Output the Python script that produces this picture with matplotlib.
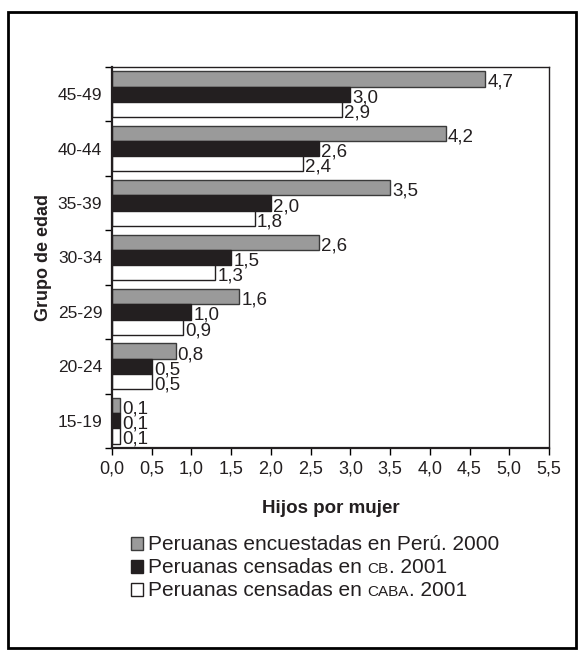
import numpy as np
import matplotlib.pyplot as plt
from matplotlib.patches import Rectangle
from matplotlib.offsetbox import TextArea, HPacker, VPacker, DrawingArea, AnchoredOffsetbox

plt.rcParams['font.family'] = ['Liberation Sans', 'DejaVu Sans']

grupos = ['15-19', '20-24', '25-29', '30-34', '35-39', '40-44', '45-49']
peru_2000 = [0.1, 0.8, 1.6, 2.6, 3.5, 4.2, 4.7]
cb_2001 = [0.1, 0.5, 1.0, 1.5, 2.0, 2.6, 3.0]
caba_2001 = [0.1, 0.5, 0.9, 1.3, 1.8, 2.4, 2.9]

series = [
    (peru_2000, '#9a9a9a', '#3a3a3a', 0.28),
    (cb_2001, '#231f20', '#231f20', 0.0),
    (caba_2001, '#ffffff', '#231f20', -0.28),
]

fig = plt.figure(figsize=(5.82, 6.54), dpi=100)
ax = fig.add_axes([0.1924, 0.315, 0.7509, 0.5826])

y = np.arange(len(grupos))
h = 0.28
for vals, fc, ec, off in series:
    bars = ax.barh(y + off, vals, height=h, color=fc, edgecolor=ec, linewidth=1.0)
    for b, v in zip(bars, vals):
        ax.annotate(f'{v:.1f}'.replace('.', ','),
                    (b.get_width(), b.get_y() + b.get_height() / 2),
                    xytext=(1.5, -2.5), textcoords='offset points',
                    va='center', ha='left', fontsize=13.5, color='#231f20')

ax.set_xlim(0, 5.5)
ax.set_ylim(-0.5, len(grupos) - 0.5)
xt = np.arange(0, 5.51, 0.5)
ax.set_xticks(xt)
ax.set_xticklabels([f'{v:.1f}'.replace('.', ',') for v in xt], fontsize=13, color='#231f20')
ax.set_yticks(y)
ax.set_yticklabels(grupos, fontsize=12.5, color='#231f20')
ax.set_yticks(np.arange(-0.5, len(grupos)), minor=True)
ax.tick_params(axis='y', which='major', length=0, pad=7)
ax.tick_params(axis='y', which='minor', length=5, width=1, direction='out')
ax.tick_params(axis='x', length=5, width=1, direction='out', pad=4)

for s in ['left', 'bottom']:
    ax.spines[s].set_linewidth(1.6)
for s in ['top', 'right']:
    ax.spines[s].set_linewidth(1.0)
for s in ax.spines.values():
    s.set_color('#231f20')

ax.set_xlabel('Hijos por mujer', fontsize=13.5, fontweight='bold', labelpad=16, color='#231f20')
ax.set_ylabel('Grupo de edad', fontsize=13, fontweight='bold', labelpad=4, color='#231f20')

# legend, with small caps for CB / CABA
def swatch(fc, ec):
    da = DrawingArea(13, 10, 0, 0)
    da.add_artist(Rectangle((0.5, 0), 9, 9.5, facecolor=fc, edgecolor=ec, linewidth=1))
    return da

def line(parts, fc, ec):
    items = [swatch(fc, ec)]
    for txt, sz in parts:
        items.append(TextArea(txt, textprops=dict(fontsize=sz, color='#231f20')))
    return HPacker(children=items, align='baseline', pad=0, sep=0)

rows = [
    line([('Peruanas encuestadas en Perú. 2000', 15)], '#9a9a9a', '#3a3a3a'),
    line([('Peruanas censadas en ', 15), ('CB', 11), ('. 2001', 15)], '#231f20', '#231f20'),
    line([('Peruanas censadas en ', 15), ('CABA', 11), ('. 2001', 15)], '#ffffff', '#231f20'),
]
box = VPacker(children=rows, align='left', pad=0, sep=3)
anch = AnchoredOffsetbox(loc='upper left', child=box, frameon=False, borderpad=0, pad=0,
                         bbox_to_anchor=(130 / 582, 1 - 535 / 654),
                         bbox_transform=fig.transFigure)
fig.add_artist(anch)

fig.add_artist(Rectangle((8 / 582, 6 / 654), 568 / 582, 636 / 654, transform=fig.transFigure,
                         fill=False, edgecolor='#000000', linewidth=2))

fig.savefig('out.png', dpi=100)
